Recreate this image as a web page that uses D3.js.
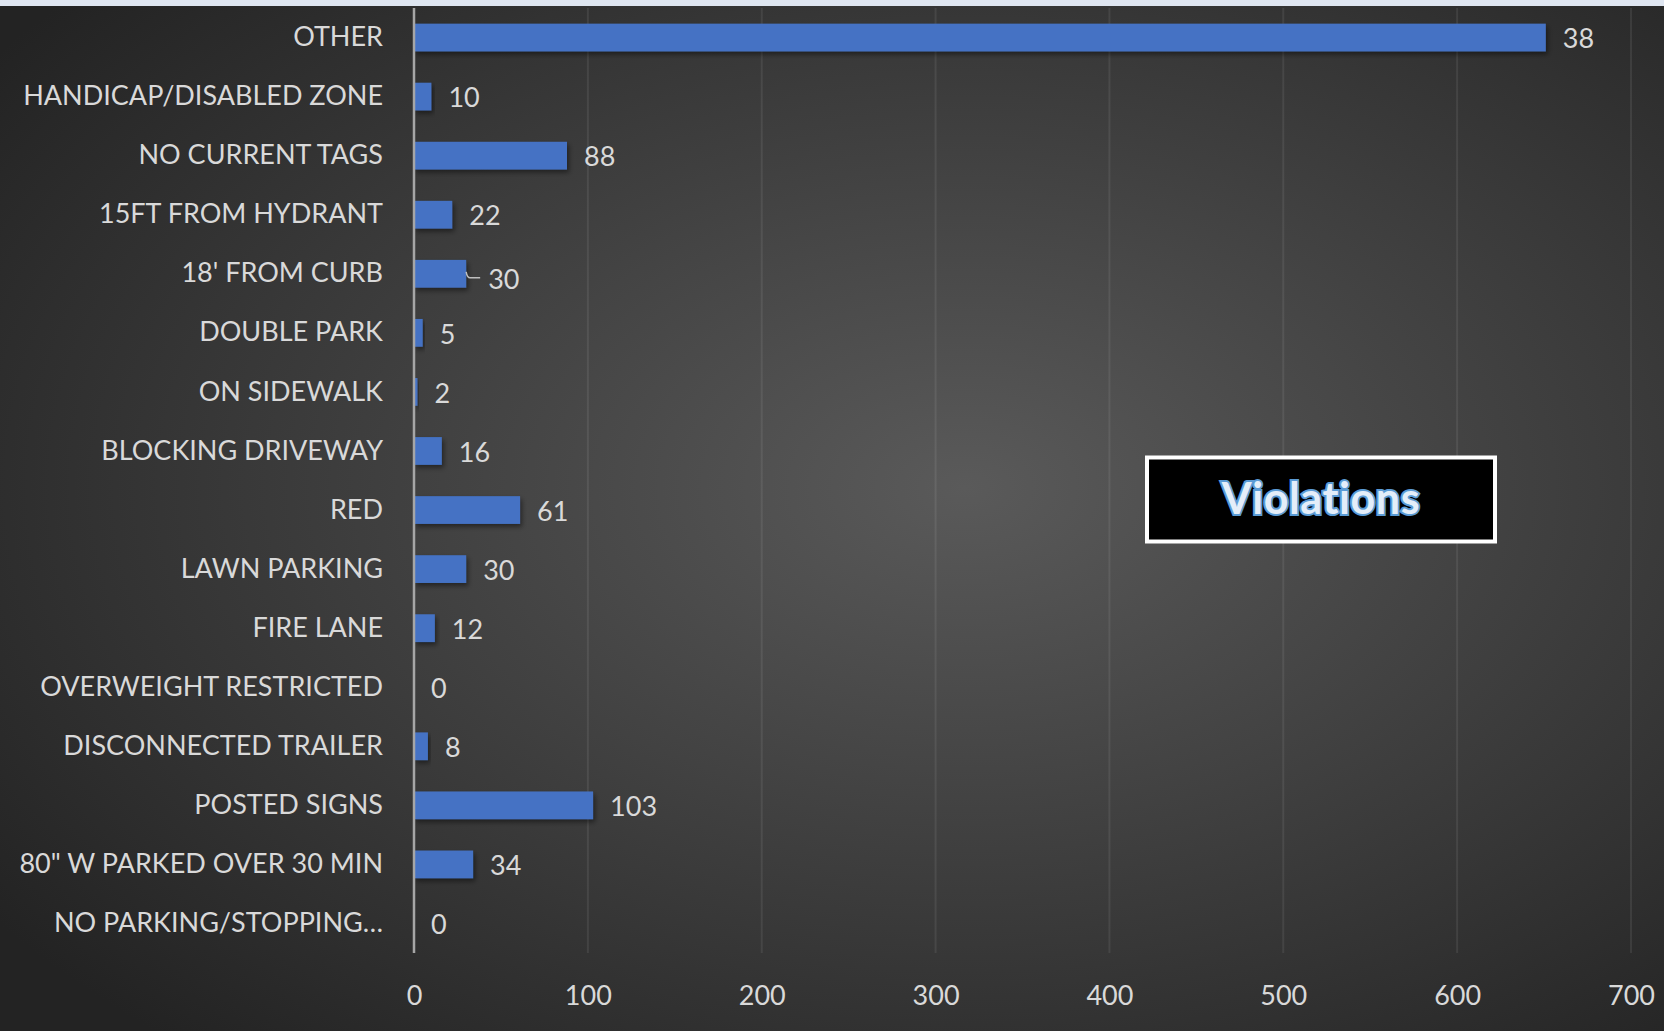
<!DOCTYPE html>
<html>
<head>
<meta charset="utf-8">
<script src="https://cdn.jsdelivr.net/npm/d3@7"></script>
<style>
  html, body { margin: 0; padding: 0; background: #262626; }
  svg { display: block; }
  text { font-family: Lato, "Noto Sans", sans-serif; }
</style>
</head>
<body>
<svg id="chart"></svg>
<script>
// violations by type, top to bottom as in the chart
const categories = [
  "OTHER", "HANDICAP/DISABLED ZONE", "NO CURRENT TAGS", "15FT FROM HYDRANT",
  "18' FROM CURB", "DOUBLE PARK", "ON SIDEWALK", "BLOCKING DRIVEWAY", "RED",
  "LAWN PARKING", "FIRE LANE", "OVERWEIGHT RESTRICTED", "DISCONNECTED TRAILER",
  "POSTED SIGNS", "80\" W PARKED OVER 30 MIN", "NO PARKING/STOPPING\u2026"
];
const barValues = [651, 10, 88, 22, 30, 5, 2, 16, 61, 30, 12, 0, 8, 103, 34, 0];
// the labels as printed (the OTHER label reads 38 in the source)
const dataLabels = ["38", "10", "88", "22", "30", "5", "2", "16", "61", "30", "12", "0", "8", "103", "34", "0"];
const xTicks = [0, 100, 200, 300, 400, 500, 600, 700];
const boxTitle = "Violations";

const width = 1664;
const height = 1031;
const margin = {top: 8, left: 414, right: 33, bottom: 78};
const fontSize = "27px";

const svg = d3.select("#chart")
  .attr("width", width)
  .attr("height", height);

const defs = svg.append("defs");

const grad = defs.append("radialGradient")
  .attr("id", "bg")
  .attr("cx", "58%").attr("cy", "47%").attr("r", "72%");
grad.append("stop").attr("offset", "0%").attr("stop-color", "#5a5a5a");
grad.append("stop").attr("offset", "100%").attr("stop-color", "#232323");

const shadow = defs.append("filter")
  .attr("id", "shadow")
  .attr("x", "-10%").attr("y", "-30%").attr("width", "130%").attr("height", "180%");
shadow.append("feDropShadow")
  .attr("dx", 2).attr("dy", 3)
  .attr("stdDeviation", 2.5)
  .attr("flood-color", "#000")
  .attr("flood-opacity", 0.45);

// thin strip at the very top and the dark chart area
svg.append("rect")
  .attr("width", width).attr("height", 6)
  .attr("fill", "#dfe6f1");
svg.append("rect")
  .attr("y", 6).attr("width", width).attr("height", height - 6)
  .attr("fill", "url(#bg)");

const x = d3.scaleLinear()
  .domain([0, 700])
  .range([margin.left, width - margin.right]);

const y = d3.scaleBand()
  .domain(categories)
  .range([margin.top, height - margin.bottom])
  .paddingInner(0.53)
  .paddingOuter(0.265);

const plotBottom = height - margin.bottom;

// gridlines
svg.append("g")
  .selectAll("line")
  .data(xTicks.slice(1))
  .join("line")
    .attr("x1", d => x(d)).attr("x2", d => x(d))
    .attr("y1", margin.top).attr("y2", plotBottom)
    .attr("stroke", "#fff")
    .attr("stroke-opacity", 0.08)
    .attr("stroke-width", 2);

// x axis tick labels
const xAxis = svg.append("g")
  .attr("transform", `translate(0,${plotBottom})`)
  .call(d3.axisBottom(x).tickValues(xTicks).tickSize(0).tickPadding(33));
xAxis.select(".domain").remove();
xAxis.selectAll("text")
  .attr("fill", "#d9d9d9")
  .style("font-size", fontSize)
  .style("font-family", "Lato, 'Noto Sans', sans-serif");

// bars
svg.append("g")
  .selectAll("rect")
  .data(barValues)
  .join("rect")
    .attr("x", x(0))
    .attr("y", (d, i) => y(categories[i]))
    .attr("width", d => x(d) - x(0))
    .attr("height", y.bandwidth())
    .attr("fill", "#4472c4")
    .attr("filter", "url(#shadow)");

// category axis
const yAxis = svg.append("g")
  .attr("transform", `translate(${x(0)},0)`)
  .call(d3.axisLeft(y).tickSize(0).tickPadding(31));
yAxis.select(".domain")
  .attr("stroke", "#a6a6a6")
  .attr("stroke-width", 2.5)
  .attr("d", `M0,${margin.top}V${plotBottom}`);
yAxis.selectAll("text")
  .attr("fill", "#d9d9d9")
  .style("font-size", fontSize)
  .style("font-family", "Lato, 'Noto Sans', sans-serif");

// value labels; the 18' FROM CURB one was dragged a bit and got a leader line
const leaderIndex = categories.indexOf("18' FROM CURB");
const labels = svg.append("g");
labels.selectAll("text")
  .data(dataLabels)
  .join("text")
    .attr("x", (d, i) => x(barValues[i]) + (i === leaderIndex ? 22 : 17))
    .attr("y", (d, i) => y(categories[i]) + y.bandwidth() / 2 + (i === leaderIndex ? 5 : 1))
    .attr("dy", "0.36em")
    .attr("fill", "#d9d9d9")
    .style("font-size", fontSize)
    .text(d => d);

const lx = x(barValues[leaderIndex]);
const ly = y(categories[leaderIndex]) + y.bandwidth() / 2;
svg.append("path")
  .attr("d", `M${lx},${ly - 2}Q${lx + 1},${ly + 4} ${lx + 4},${ly + 4}H${lx + 14}`)
  .attr("fill", "none")
  .attr("stroke", "#bfbfbf")
  .attr("stroke-width", 1.5);

// title box
const box = svg.append("g");
box.append("rect")
  .attr("x", 1147).attr("y", 457.5)
  .attr("width", 348).attr("height", 84)
  .attr("fill", "#000")
  .attr("stroke", "#fff")
  .attr("stroke-width", 4);
box.append("text")
  .attr("x", 1321).attr("y", 514)
  .attr("text-anchor", "middle")
  .attr("fill", "#e4eef9")
  .attr("stroke", "#5b9bd5")
  .attr("stroke-width", 4)
  .attr("paint-order", "stroke")
  .style("font-size", "43px")
  .style("font-weight", "bold")
  .style("letter-spacing", "0.6px")
  .text(boxTitle);
</script>
</body>
</html>
